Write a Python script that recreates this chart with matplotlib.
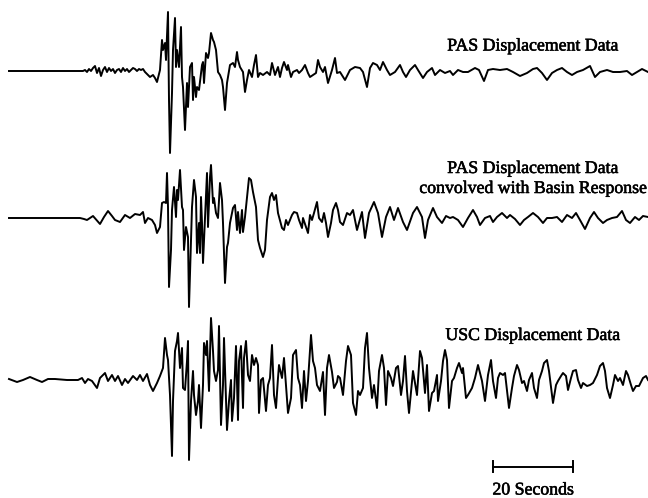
import numpy as np
import matplotlib
matplotlib.use("Agg")
import matplotlib.pyplot as plt
import matplotlib.patheffects as pe

fs = 4.0

pas_n = [0, 72, 74, 76, 78, 80, 82, 84, 86, 88,
         90, 92, 94, 96, 98, 100, 102, 104, 106, 108,
         110, 112, 114, 116, 118, 120, 122, 124, 126, 128,
         130, 132, 134, 136, 138, 141, 144, 146, 148, 151,
         153, 154, 156, 157, 159, 160, 161, 163, 164, 166,
         167, 168, 170, 172, 173, 174, 176, 178, 179, 181,
         183, 184, 185, 187, 188, 190, 193, 194, 195, 197,
         199, 200, 202, 204, 205, 207, 209, 211, 213, 214,
         216, 218, 219, 221, 224, 226, 228, 229, 231, 234,
         236, 238, 240, 243, 245, 247, 249, 251, 254, 258,
         261, 263, 266, 269, 271, 273, 275, 278, 279, 282,
         284, 288, 290, 293, 296, 299, 301, 304, 307, 309,
         311, 314, 316, 319, 323, 326, 328, 331, 336, 341,
         346, 351, 354, 358, 361, 364, 368, 371, 374, 378,
         381, 386, 391, 394, 397, 401, 406, 409, 414, 418,
         423, 426, 431, 436, 441, 444, 449, 454, 459, 466,
         470, 475, 479, 484, 491, 498, 504, 511, 518, 524,
         528, 533, 538, 543, 548, 553, 558, 563, 568, 574,
         581, 586, 591, 598, 604, 611, 618, 623, 628, 633,
         639]
pas_a = [0, 0, 0, 1, -1, 2, 0, 3, 5, -2,
         3, -5, 1, 4, -1, 3, 0, 2, -2, 1,
         2, -1, 3, 0, 2, -1, 1, 3, 2, 0,
         2, 1, 2, -1, -3, -6, -4, -7, -11, 1,
         31, 21, 28, 11, 59, -29, -82, -22, 21, 53,
         4, 21, 4, 44, -6, -16, -59, -12, -36, 4,
         8, -29, -6, -26, -16, -19, 6, 9, -12, 18,
         13, 18, 38, 31, 29, 21, -1, -4, -9, -16,
         -39, -12, -6, 6, 8, 4, 19, 11, 4, -1,
         -21, -9, 1, -6, 6, 16, -6, -2, -4, -1,
         -4, 8, -4, 4, -6, 3, 9, 1, 6, -6,
         -1, 1, -2, 1, 6, -2, -6, -4, -2, 11,
         4, -1, 4, -12, 1, 13, -2, -1, -9, 1,
         4, 3, -1, -16, 3, 8, 6, 1, 9, 1,
         -4, -1, 6, -1, -6, 1, 6, 1, -7, -1,
         3, -4, 1, -2, 0, -4, 1, -1, -1, 3,
         1, -10, 1, 2, 1, 2, -1, -5, -2, 2,
         3, -2, -9, -2, 1, 3, -1, -4, -1, 1,
         5, -6, -1, 1, -1, -1, 0, -4, -1, 2,
         -1]

conv_n = [0, 71, 75, 78, 84, 91, 95, 99, 103, 106,
          111, 116, 121, 126, 131, 134, 136, 139, 143, 146,
          148, 151, 153, 155, 157, 158, 159, 160, 162, 163,
          165, 167, 168, 169, 171, 173, 174, 175, 177, 179,
          180, 182, 183, 185, 187, 188, 190, 191, 192, 193,
          194, 196, 198, 199, 201, 202, 204, 205, 207, 209,
          211, 213, 214, 216, 218, 219, 221, 223, 224, 226,
          228, 229, 231, 233, 234, 236, 238, 240, 242, 244,
          247, 249, 251, 254, 256, 258, 261, 263, 265, 267,
          269, 273, 275, 277, 279, 283, 285, 288, 290, 293,
          294, 297, 299, 301, 303, 305, 308, 310, 313, 315,
          317, 319, 322, 324, 327, 329, 331, 334, 338, 341,
          344, 348, 353, 356, 360, 365, 369, 373, 377, 381,
          385, 389, 394, 398, 404, 408, 413, 416, 419, 424,
          428, 433, 437, 441, 444, 449, 454, 459, 464, 468,
          471, 476, 481, 484, 488, 493, 498, 501, 506, 511,
          515, 519, 524, 529, 534, 538, 543, 548, 553, 558,
          563, 567, 571, 576, 581, 585, 589, 594, 598, 603,
          608, 613, 617, 621, 626, 630, 634, 639]
conv_a = [0, 0, -1, -2, 2, -6, 1, 7, 2, -2,
          -4, 3, 0, 4, 3, 6, -5, 0, -2, -7,
          -15, -9, 15, 16, 15, 45, 11, -69, -32, 8,
          31, 1, 28, 18, 48, 11, 8, -32, -9, -19,
          -89, -22, 11, 38, 21, -35, -5, -35, 21, -5,
          -45, 1, 45, -9, 41, 53, 15, 20, 5, 0,
          35, 18, -5, -65, -29, -25, -5, 5, 10, 13,
          -12, 6, -15, 8, -14, 1, 21, 40, 38, 26,
          11, -22, -30, -39, -32, -2, 21, 25, 18, 23,
          5, -10, -12, -2, -7, 3, 6, 5, -2, -10,
          0, -9, -15, 3, -2, 5, 16, 0, -4, 5,
          -5, -19, -5, 8, 15, 8, -4, -7, 5, 3,
          8, -12, 6, -20, 5, 16, 5, -19, 1, 11,
          -2, 10, -4, -12, 5, 11, 1, -20, -2, 10,
          1, -5, 2, 0, 1, -2, -9, 0, 8, 1,
          -7, 0, 2, -4, 1, 5, 0, 3, -1, -7,
          -2, 1, 5, 1, -5, 0, 0, 1, -4, 3,
          0, 5, -2, -11, 0, 6, 0, -5, -2, 0,
          1, 7, -2, -5, 1, -2, 2, 1]

usc_n = [0, 8, 14, 21, 28, 33, 39, 46, 58, 69,
         73, 76, 79, 83, 88, 91, 96, 99, 103, 106,
         109, 113, 116, 119, 124, 128, 131, 134, 138, 141,
         144, 148, 151, 154, 156, 158, 159, 161, 163, 164,
         166, 168, 169, 171, 173, 174, 176, 178, 179, 180,
         182, 184, 185, 187, 189, 190, 192, 194, 195, 197,
         198, 200, 202, 204, 205, 207, 209, 210, 212, 214,
         215, 217, 218, 220, 222, 223, 225, 227, 229, 230,
         232, 234, 235, 237, 239, 241, 243, 245, 247, 249,
         250, 252, 254, 257, 259, 261, 263, 265, 267, 269,
         270, 273, 275, 277, 279, 282, 284, 287, 289, 291,
         293, 295, 297, 299, 302, 304, 306, 308, 311, 314,
         316, 318, 320, 323, 325, 328, 329, 331, 334, 337,
         339, 342, 344, 347, 349, 351, 354, 356, 358, 360,
         363, 365, 368, 370, 373, 375, 377, 379, 382, 384,
         387, 389, 392, 394, 396, 398, 400, 403, 404, 408,
         411, 413, 416, 418, 420, 423, 425, 428, 429, 432,
         434, 436, 438, 440, 443, 445, 448, 450, 453, 454,
         457, 459, 463, 466, 469, 473, 476, 479, 482, 484,
         487, 489, 491, 494, 496, 498, 500, 503, 505, 508,
         510, 513, 515, 518, 520, 523, 525, 528, 530, 533,
         535, 538, 540, 543, 544, 547, 549, 552, 554, 557,
         559, 562, 564, 567, 569, 572, 574, 578, 581, 584,
         588, 591, 594, 596, 598, 601, 604, 606, 609, 611,
         614, 617, 619, 622, 624, 627, 630, 634, 637, 639]
usc_a = [1, -2, 0, 3, 0, -2, 1, 1, 0, 0,
         2, -3, 1, -1, -8, 2, 7, -1, 5, -1,
         4, -5, 1, -3, 4, 0, 5, -1, 6, -5,
         -11, -3, 4, 12, 42, 25, 20, -15, -76, -21,
         29, 39, 47, 12, 32, -8, -10, 19, 39, -80,
         -21, 9, -15, -35, -21, -5, -48, -5, 37, 25,
         39, -11, 62, 29, 9, -1, 10, 54, -45, -5,
         42, -18, -50, -21, 0, -41, -18, 34, -40, 19,
         34, -28, 22, 39, 5, -1, 25, 15, 22, 15,
         -33, 0, 2, -31, -5, 2, 35, -15, -28, 2,
         15, 2, 22, -5, -33, -18, 25, 30, 2, -5,
         -28, 9, -21, -1, 45, 19, 12, -5, -11, 8,
         -35, 12, 25, 8, -8, -2, 4, 2, -15, 19,
         34, 25, -23, -35, -11, -15, -8, 32, 47, 12,
         -18, -5, -28, 9, 25, 12, -25, 9, 2, -6,
         12, 14, -15, -1, 24, -11, -33, -1, 9, -15,
         29, 22, -13, 15, -31, -13, -11, 5, -21, -1,
         19, 30, 20, -28, -1, 2, 12, 17, 7, 12,
         -18, -15, -8, 2, 15, -1, -21, 5, 20, -1,
         -18, 2, 7, 5, 7, -11, -28, -8, 4, 15,
         10, -3, -1, -11, 0, 7, -8, -18, 0, 9,
         17, 20, 9, -15, -23, -5, -1, 4, 7, 4,
         -10, 2, 9, 10, 0, -8, -3, -6, -5, -3,
         5, 14, 17, 9, -8, -18, -5, 5, -1, 2,
         -5, 9, 5, -5, -11, -6, -6, 2, 4, 0]

labels = [["PAS Displacement Data"],
          ["PAS Displacement Data", "convolved with Basin Response"],
          ["USC Displacement Data"]]
scale_sec = 20

serif = "Liberation Serif"
heavy = [pe.withStroke(linewidth=0.4, foreground="black")]

fig = plt.figure(figsize=(6.48, 4.98), dpi=100)
ax = fig.add_axes([0, 0, 1, 1])
ax.set_xlim(-2.25, 159.75)
ax.set_ylim(498, 0)
ax.axis("off")

traces = [(pas_n, pas_a, 71), (conv_n, conv_a, 218), (usc_n, usc_a, 380)]
for n, a, base in traces:
    t = np.array(n) / fs
    ax.plot(t, base - np.array(a), color="black", lw=1.4)

# trace labels
lab_y = [[50.5], [173, 193], [340]]
for lines, ys in zip(labels, lab_y):
    for s, y in zip(lines, ys):
        ax.text(131, y, s, ha="center", va="baseline", fontsize=12.8,
                family=serif, color="black", path_effects=heavy)

# time scale bar
x0 = 121
ax.plot([x0, x0 + scale_sec], [466.5, 466.5], color="black", lw=1.4)
ax.plot([x0, x0], [461, 472], color="black", lw=1.4)
ax.plot([x0 + scale_sec, x0 + scale_sec], [461, 472], color="black", lw=1.4)
ax.text(x0 + scale_sec / 2, 494.5, f"{scale_sec} Seconds", ha="center",
        va="baseline", fontsize=12.8, family=serif, color="black",
        path_effects=heavy)

fig.savefig("out.png", dpi=100)
